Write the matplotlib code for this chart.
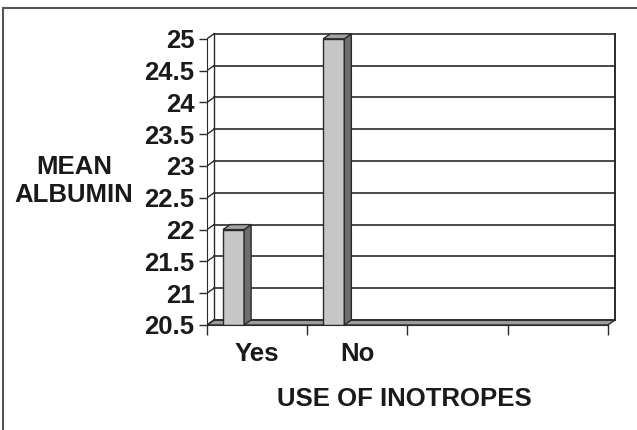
"""Mean albumin by use of inotropes - 3D style column chart"""
import matplotlib.pyplot as plt
from matplotlib.patches import Polygon
from matplotlib.lines import Line2D
import numpy as np

categories = ['Yes', 'No']
mean_albumin = [22.0, 25.0]
y_ticks = [20.5, 21, 21.5, 22, 22.5, 23, 23.5, 24, 24.5, 25]
n_slots = 4          # category slots on the floor (last two are empty)

y_min, y_max = 20.5, 25.0
dx, dy = 0.07, 0.079  # depth offset of the back wall
bar_off, bar_w = 0.16, 0.21

plt.rcParams['font.family'] = 'Liberation Sans'
plt.rcParams['font.weight'] = 'bold'

fig = plt.figure(figsize=(6.37, 4.30), dpi=100)
ax = fig.add_axes([207 / 637, 105 / 430, 411 / 637, 296 / 430])
ax.set_xlim(0, 4.1)
ax.set_ylim(y_min, y_min + 296 / 63.6)

edge = '#2a2a2a'

# floor
floor = Polygon([(0, y_min), (n_slots, y_min), (n_slots + dx, y_min + dy), (dx, y_min + dy)],
                closed=True, facecolor='#9c9c9c', edgecolor=edge, linewidth=1.0, zorder=1)
ax.add_patch(floor)

# back wall gridlines + side wall diagonals
for v in y_ticks:
    ax.plot([dx, n_slots + dx], [v + dy, v + dy], color=edge, linewidth=1.2, zorder=1)
    ax.plot([0, dx], [v, v + dy], color=edge, linewidth=1.0, zorder=1)
ax.plot([dx, dx], [y_min + dy, y_max + dy], color=edge, linewidth=1.0, zorder=1)
ax.plot([n_slots + dx, n_slots + dx], [y_min + dy, y_max + dy], color=edge, linewidth=1.4, zorder=1)

# columns
x = np.arange(len(categories)) + bar_off
heights = np.array(mean_albumin) - y_min
ax.bar(x, heights, bottom=y_min, width=bar_w, align='edge',
       color='#c6c6c6', edgecolor=edge, linewidth=1.0, zorder=3)
for xi, v in zip(x, mean_albumin):
    side = Polygon([(xi + bar_w, y_min), (xi + bar_w + dx, y_min + dy),
                    (xi + bar_w + dx, v + dy), (xi + bar_w, v)],
                   closed=True, facecolor='#6e6e6e', edgecolor=edge, linewidth=1.0, zorder=3)
    top = Polygon([(xi, v), (xi + bar_w, v), (xi + bar_w + dx, v + dy), (xi + dx, v + dy)],
                  closed=True, facecolor='#a2a2a2', edgecolor=edge, linewidth=1.0, zorder=3)
    ax.add_patch(side)
    ax.add_patch(top)

# axes
for s in ['top', 'right']:
    ax.spines[s].set_visible(False)
ax.spines['left'].set_bounds(y_min, y_max)
ax.spines['bottom'].set_bounds(0, n_slots)
ax.spines['left'].set_color(edge)
ax.spines['bottom'].set_color(edge)
ax.spines['left'].set_zorder(4)
ax.spines['bottom'].set_zorder(4)

ax.set_yticks(y_ticks)
ax.set_yticklabels([f'{v:g}' for v in y_ticks], fontsize=18.5, fontweight='bold')
ax.tick_params(axis='y', direction='out', length=6, width=1, pad=3, colors=edge, labelcolor='#1a1a1a')

ax.set_xticks(np.arange(n_slots + 1))
ax.set_xticklabels([])
ax.set_xticks(np.arange(len(categories)) + 0.5, minor=True)
ax.set_xticklabels(categories, minor=True, fontsize=18.5, fontweight='bold')
ax.tick_params(axis='x', which='major', direction='out', length=7, width=1, colors=edge)
ax.tick_params(axis='x', which='minor', length=0, pad=12, labelcolor='#1a1a1a')

fig.text(74 / 637, 1 - 181 / 430, 'MEAN\nALBUMIN', ha='center', va='center',
         fontsize=18.5, fontweight='bold', color='#1a1a1a', linespacing=1.25)
fig.text(404 / 637, 1 - 399 / 430, 'USE OF INOTROPES', ha='center', va='center',
         fontsize=18.5, fontweight='bold', color='#1a1a1a')

# frame edges around the chart area
fig.add_artist(Line2D([3 / 637, 3 / 637], [0, 1 - 8 / 430], color='#555555', linewidth=1.5))
fig.add_artist(Line2D([3 / 637, 1], [1 - 8 / 430, 1 - 8 / 430], color='#555555', linewidth=1.5))

plt.savefig('out.png', dpi=100)
plt.close()
